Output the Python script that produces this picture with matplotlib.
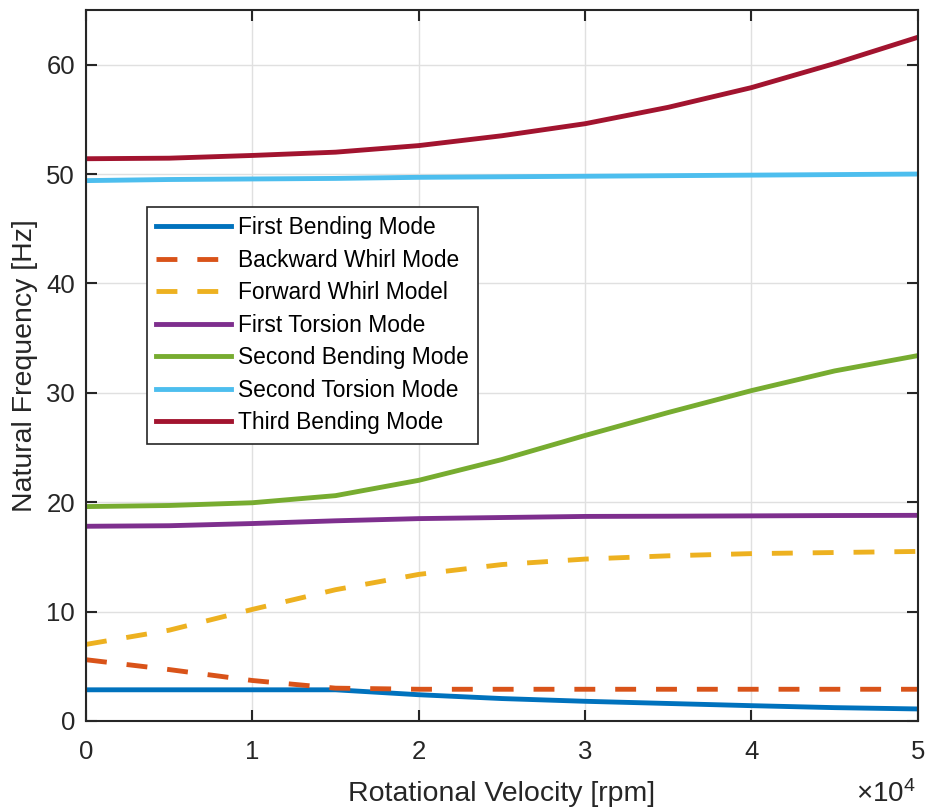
import numpy as np
import matplotlib
matplotlib.use('Agg')
import matplotlib.pyplot as plt
from matplotlib.ticker import FuncFormatter

plt.rcParams['font.family'] = ['Liberation Sans', 'DejaVu Sans']
plt.rcParams['mathtext.fontset'] = 'custom'
plt.rcParams['mathtext.rm'] = 'Liberation Sans'
plt.rcParams['mathtext.it'] = 'Liberation Sans'

# rotational velocity [rpm]
rpm = [0, 5000, 10000, 15000, 20000, 25000, 30000, 35000, 40000, 45000, 50000]

# natural frequencies [Hz]
first_bending = [2.85, 2.85, 2.85, 2.85, 2.4, 2.05, 1.8, 1.6, 1.4, 1.22, 1.1]
backward_whirl = [5.6, 4.7, 3.7, 3.0, 2.9, 2.9, 2.9, 2.9, 2.9, 2.9, 2.9]
forward_whirl = [7.0, 8.3, 10.2, 12.0, 13.4, 14.3, 14.8, 15.1, 15.3, 15.4, 15.5]
first_torsion = [17.8, 17.85, 18.05, 18.3, 18.5, 18.6, 18.7, 18.72, 18.75, 18.78, 18.8]
second_bending = [19.6, 19.7, 19.95, 20.6, 22.0, 23.9, 26.1, 28.2, 30.2, 32.0, 33.4]
second_torsion = [49.4, 49.5, 49.55, 49.6, 49.7, 49.75, 49.8, 49.85, 49.9, 49.95, 50.0]
third_bending = [51.4, 51.45, 51.7, 52.0, 52.6, 53.5, 54.6, 56.1, 57.9, 60.1, 62.5]

fig = plt.figure(figsize=(9.27, 8.10), dpi=100)
ax = fig.add_axes([0.0928, 0.1099, 0.8972, 0.8778])

lw = 3.5
dash = (4.3, 4.1)
ax.plot(rpm, first_bending, color='#0072BD', lw=lw, label='First Bending Mode')
ax.plot(rpm, backward_whirl, color='#D95319', lw=lw, dashes=dash, label='Backward Whirl Mode')
ax.plot(rpm, forward_whirl, color='#EDB120', lw=lw, dashes=dash, label='Forward Whirl Model')
ax.plot(rpm, first_torsion, color='#7E2F8E', lw=lw, label='First Torsion Mode')
ax.plot(rpm, second_bending, color='#77AC30', lw=lw, label='Second Bending Mode')
ax.plot(rpm, second_torsion, color='#4DBEEE', lw=lw, label='Second Torsion Mode')
ax.plot(rpm, third_bending, color='#A2142F', lw=lw, label='Third Bending Mode')

ax.set_xlim(0, 50000)
ax.set_ylim(0, 65)
ax.set_xticks([0, 10000, 20000, 30000, 40000, 50000])
ax.set_yticks([0, 10, 20, 30, 40, 50, 60])
# x ticks shown in units of 10^4, like MATLAB
ax.xaxis.set_major_formatter(FuncFormatter(lambda v, p: '%g' % (v / 1e4)))
fig.text(0.988, 0.003, r'$\times10^{4}$', ha='right', va='bottom',
         fontsize=20, color='#262626')

ax.grid(True, color='#e0e0e0', lw=1)
ax.set_axisbelow(True)
for s in ax.spines.values():
    s.set_color('#262626')
    s.set_linewidth(1.5)
ax.tick_params(direction='in', length=8, width=1.5, top=True, right=True,
               labelsize=18.5, colors='#262626')
ax.tick_params(axis='y', pad=8)
ax.tick_params(axis='x', pad=14)

ax.set_xlabel('Rotational Velocity [rpm]', fontsize=20.5, color='#262626', labelpad=12)
ax.set_ylabel('Natural Frequency [Hz]', fontsize=20.5, color='#262626', labelpad=6)

leg = ax.legend(loc='upper left', bbox_to_anchor=(0.0733, 0.723), fontsize=16.4,
                fancybox=False, framealpha=1, edgecolor='#262626', borderaxespad=0,
                handlelength=3.3, labelspacing=0.42, borderpad=0.4, handletextpad=0.3)
leg.get_frame().set_linewidth(1.2)

plt.savefig('out.png', dpi=100)
